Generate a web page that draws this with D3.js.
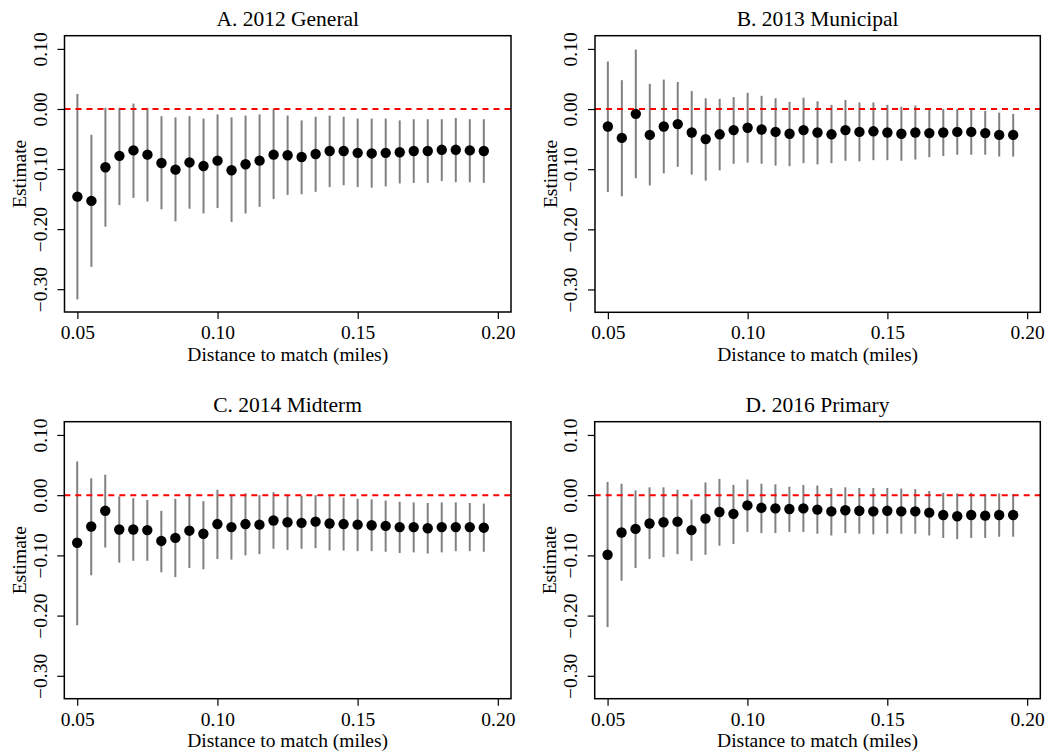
<!DOCTYPE html>
<html>
<head>
<meta charset="utf-8">
<script src="https://cdn.jsdelivr.net/npm/d3@7"></script>
<style>
  body { margin: 0; background: #fff; }
  svg { display: block; font-family: "Liberation Serif", "Times New Roman", serif; }
</style>
</head>
<body>
<div id="chart"></div>
<script>
// Distances (miles) shared by every panel
const distances = d3.range(30).map(i => +(0.05 + i * 0.005).toFixed(3));

const titles = ["A. 2012 General", "B. 2013 Municipal", "C. 2014 Midterm", "D. 2016 Primary"];

// Point estimates
const estA = [-0.146, -0.153, -0.097, -0.078, -0.069, -0.076, -0.090, -0.101, -0.089, -0.095,
              -0.086, -0.102, -0.092, -0.086, -0.076, -0.077, -0.080, -0.075, -0.070, -0.070,
              -0.073, -0.074, -0.073, -0.072, -0.070, -0.070, -0.068, -0.068, -0.069, -0.070];
const lowA = [-0.317, -0.263, -0.196, -0.160, -0.148, -0.154, -0.167, -0.187, -0.166, -0.174,
              -0.165, -0.188, -0.174, -0.163, -0.150, -0.143, -0.142, -0.138, -0.130, -0.127,
              -0.130, -0.131, -0.129, -0.124, -0.123, -0.123, -0.120, -0.122, -0.122, -0.123];
const highA = [0.025, -0.043, 0.002, 0.002, 0.009, 0.002, -0.012, -0.014, -0.012, -0.016,
               -0.009, -0.014, -0.011, -0.009, 0.000, -0.011, -0.019, -0.013, -0.011, -0.013,
               -0.016, -0.016, -0.016, -0.019, -0.017, -0.017, -0.017, -0.015, -0.017, -0.017];

const estB = [-0.029, -0.048, -0.008, -0.043, -0.029, -0.025, -0.039, -0.050, -0.042, -0.035,
              -0.031, -0.034, -0.038, -0.041, -0.035, -0.039, -0.042, -0.035, -0.038, -0.037,
              -0.039, -0.041, -0.039, -0.040, -0.039, -0.038, -0.038, -0.040, -0.043, -0.043];
const lowB = [-0.138, -0.145, -0.115, -0.127, -0.107, -0.096, -0.109, -0.119, -0.102, -0.091,
              -0.089, -0.091, -0.094, -0.095, -0.090, -0.092, -0.090, -0.086, -0.087, -0.085,
              -0.085, -0.086, -0.084, -0.080, -0.078, -0.076, -0.076, -0.076, -0.079, -0.079];
const highB = [0.079, 0.048, 0.099, 0.042, 0.049, 0.045, 0.030, 0.018, 0.017, 0.020,
               0.027, 0.022, 0.018, 0.012, 0.019, 0.013, 0.007, 0.015, 0.011, 0.011,
               0.007, 0.004, 0.006, 0.001, 0.000, 0.000, 0.001, -0.003, -0.006, -0.008];

const estC = [-0.079, -0.052, -0.026, -0.057, -0.057, -0.058, -0.076, -0.071, -0.059, -0.064,
              -0.048, -0.053, -0.048, -0.049, -0.042, -0.045, -0.046, -0.044, -0.047, -0.048,
              -0.049, -0.050, -0.051, -0.053, -0.053, -0.055, -0.053, -0.053, -0.053, -0.054];
const lowC = [-0.216, -0.133, -0.087, -0.112, -0.109, -0.109, -0.128, -0.136, -0.121, -0.123,
              -0.106, -0.107, -0.100, -0.098, -0.089, -0.091, -0.089, -0.088, -0.092, -0.092,
              -0.093, -0.093, -0.094, -0.096, -0.095, -0.097, -0.095, -0.093, -0.093, -0.094];
const highC = [0.056, 0.028, 0.034, -0.002, -0.005, -0.008, -0.026, -0.006, 0.002, -0.010,
               0.009, 0.001, 0.003, 0.000, 0.005, 0.000, -0.001, 0.000, 0.000, -0.004,
               -0.006, -0.007, -0.009, -0.011, -0.012, -0.013, -0.012, -0.012, -0.013, -0.014];

const estD = [-0.099, -0.062, -0.056, -0.047, -0.045, -0.044, -0.058, -0.039, -0.028, -0.031,
              -0.017, -0.021, -0.022, -0.023, -0.022, -0.024, -0.027, -0.025, -0.026, -0.027,
              -0.026, -0.027, -0.027, -0.029, -0.033, -0.035, -0.033, -0.034, -0.033, -0.033];
const lowD = [-0.219, -0.142, -0.121, -0.106, -0.103, -0.098, -0.109, -0.099, -0.084, -0.081,
              -0.061, -0.063, -0.063, -0.061, -0.061, -0.064, -0.067, -0.063, -0.064, -0.065,
              -0.064, -0.064, -0.064, -0.067, -0.071, -0.073, -0.071, -0.071, -0.069, -0.069];
const highD = [0.022, 0.019, 0.008, 0.013, 0.013, 0.009, -0.007, 0.021, 0.027, 0.017,
               0.026, 0.019, 0.018, 0.014, 0.017, 0.016, 0.012, 0.013, 0.012, 0.012,
               0.012, 0.011, 0.010, 0.007, 0.004, 0.003, 0.004, 0.002, 0.003, 0.002];

const xTicks = [0.05, 0.10, 0.15, 0.20];
const yTicks = [-0.30, -0.20, -0.10, 0.00, 0.10];

const series = [
    { est: estA, low: lowA, high: highA },
    { est: estB, low: lowB, high: highB },
    { est: estC, low: lowC, high: highC },
    { est: estD, low: lowD, high: highD }
];

const W = 1053, H = 753;
const svg = d3.select("#chart").append("svg")
    .attr("width", W)
    .attr("height", H);

// plot boxes (left, top, right, bottom)
const boxes = [
    [64.5, 35.7, 511, 312],
    [595, 35.7, 1040.3, 312.3],
    [64.3, 421.7, 511, 698.7],
    [594.7, 421.7, 1040.3, 698.7]
];

const fmt = d3.format(".2f");

series.forEach((s, k) => {
    const [l, t, r, b] = boxes[k];
    const w = r - l, h = b - t;
    const g = svg.append("g").attr("transform", `translate(${l},${t})`);

    const x = d3.scaleLinear().domain([0.0454, 0.2047]).range([0, w]);
    const y = d3.scaleLinear().domain([-0.338, 0.122]).range([h, 0]);

    const data = distances.map((d, i) => ({ d: d, est: s.est[i], low: s.low[i], high: s.high[i] }));

    // error bars
    g.selectAll("line.ci")
        .data(data)
        .enter()
        .append("line")
        .attr("class", "ci")
        .attr("x1", d => x(d.d))
        .attr("x2", d => x(d.d))
        .attr("y1", d => y(d.low))
        .attr("y2", d => y(d.high))
        .attr("stroke", "#808080")
        .attr("stroke-width", 2);

    // points
    g.selectAll("circle")
        .data(data)
        .enter()
        .append("circle")
        .attr("cx", d => x(d.d))
        .attr("cy", d => y(d.est))
        .attr("r", 5.2)
        .attr("fill", "#000");

    // zero reference line
    g.append("line")
        .attr("x1", 0)
        .attr("x2", w)
        .attr("y1", y(0))
        .attr("y2", y(0))
        .attr("stroke", "#ff0000")
        .attr("stroke-width", 2)
        .attr("stroke-dasharray", "6,5");

    // frame
    g.append("rect")
        .attr("width", w)
        .attr("height", h)
        .attr("fill", "none")
        .attr("stroke", "#000")
        .attr("stroke-width", 1.5);

    // x axis
    const xa = g.append("g")
        .attr("transform", `translate(0,${h})`)
        .call(d3.axisBottom(x).tickValues(xTicks).tickFormat(fmt).tickSize(7));
    xa.select(".domain").remove();
    xa.selectAll("line").attr("stroke", "#000").attr("stroke-width", 1.2);
    xa.selectAll("text")
        .attr("y", 27)
        .attr("dy", 0)
        .attr("fill", "#000")
        .style("font-size", "19.5px")
        .style("font-family", "Liberation Serif, serif");

    // y axis
    const ya = g.append("g")
        .call(d3.axisLeft(y).tickValues(yTicks).tickFormat(fmt).tickSize(7));
    ya.select(".domain").remove();
    ya.selectAll("line").attr("stroke", "#000").attr("stroke-width", 1.2);
    ya.selectAll("text")
        .attr("transform", "rotate(-90)")
        .attr("x", 0)
        .attr("y", -17.8)
        .attr("dy", 0)
        .attr("text-anchor", "middle")
        .attr("fill", "#000")
        .style("font-size", "19.5px")
        .style("font-family", "Liberation Serif, serif");

    // labels
    g.append("text")
        .attr("x", w / 2)
        .attr("y", h + 48.7)
        .attr("text-anchor", "middle")
        .style("font-size", "19.5px")
        .text("Distance to match (miles)");

    g.append("text")
        .attr("transform", `translate(-38.5,${h / 2}) rotate(-90)`)
        .attr("text-anchor", "middle")
        .style("font-size", "19.5px")
        .text("Estimate");

    g.append("text")
        .attr("x", w / 2)
        .attr("y", -9.7)
        .attr("text-anchor", "middle")
        .style("font-size", "21.5px")
        .text(titles[k]);
});
</script>
</body>
</html>
